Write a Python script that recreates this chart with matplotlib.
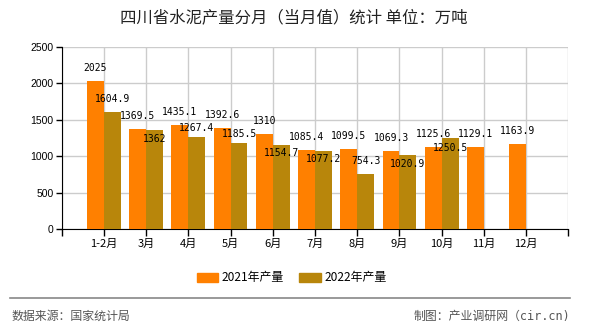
import numpy as np
import matplotlib
matplotlib.use("Agg")
import matplotlib.pyplot as plt
from matplotlib.patches import Rectangle
from matplotlib.lines import Line2D

plt.rcParams['font.family'] = ['Noto Sans CJK SC', 'DejaVu Sans']

months = ["1-2月", "3月", "4月", "5月", "6月", "7月", "8月", "9月", "10月", "11月", "12月"]
prod_2021 = [2025, 1369.5, 1435.1, 1392.6, 1310, 1085.4, 1099.5, 1069.3, 1125.6, 1129.1, 1163.9]
prod_2022 = [1604.9, 1362, 1267.4, 1185.5, 1154.7, 1077.2, 754.3, 1020.9, 1250.5]
# label shifts (px) for the 2022 labels, as the source moved some below the bar top
shift_2022 = [13, -9, 9, 9, -8, -8, 13, -9, -10]

c21 = "#FF8000"
c22 = "#B8860B"

fig = plt.figure(figsize=[5.9, 3.3], dpi=100)
ax = fig.add_axes([61.7/590, 1-229.3/330, (568.3-61.7)/590, (229.3-46.8)/330])

x = np.arange(len(months))
w = 0.4
ax.bar(x - w/2, prod_2021, width=w, color=c21, zorder=3)
x2 = x[:len(prod_2022)]
ax.bar(x2 + w/2, prod_2022, width=w, color=c22, zorder=3)

ax.set_xlim(-1, 11)
ax.set_ylim(0, 2500)
ax.set_yticks(np.arange(0, 2501, 500))
ax.set_xticks(np.arange(-1, 12))
ax.set_xticklabels([""] + months + [""])
ax.grid(True, color="#CCCCCC", linewidth=1, zorder=0)
ax.set_axisbelow(True)
for s in ["top", "right"]:
    ax.spines[s].set_visible(False)
ax.spines["left"].set_color("black")
ax.spines["bottom"].set_color("black")
ax.tick_params(axis="y", length=4, width=1, pad=2, labelsize=7.5)
ax.tick_params(axis="x", length=5, width=1, pad=2, labelsize=8)
for t in ax.get_yticklabels():
    t.set_family(['Liberation Sans', 'DejaVu Sans'])

mono = ['DejaVu Sans Mono', 'Noto Sans CJK SC']
for xi, v in zip(x, prod_2021):
    ax.annotate(f"{v:g}", (xi - w/2, v), xytext=(0, 13), textcoords="offset pixels",
                ha="center", va="center", fontsize=7, family=mono, zorder=5)
for xi, v, d in zip(x2, prod_2022, shift_2022):
    ax.annotate(f"{v:g}", (xi + w/2, v), xytext=(0, d), textcoords="offset pixels",
                ha="center", va="center", fontsize=7, family=mono, zorder=5)

fig.text(294/590, 1-18/330, "四川省水泥产量分月（当月值）统计 单位：万吨",
         ha="center", va="center", fontsize=11.8, color="#222222")

# legend
ly = 1 - 277/330
fig.patches.append(Rectangle((197/590, ly - 4.5/330), 21/590, 9/330, color=c21,
                             transform=fig.transFigure, figure=fig))
fig.text(222/590, ly, "2021年产量", ha="left", va="center", fontsize=8.6)
fig.patches.append(Rectangle((299/590, ly - 4.5/330), 22/590, 9/330, color=c22,
                             transform=fig.transFigure, figure=fig))
fig.text(325/590, ly, "2022年产量", ha="left", va="center", fontsize=8.6)

# footer
fig.lines.append(Line2D([10/590, 570/590], [1-298.3/330]*2, color="#888888",
                        linewidth=1.2, transform=fig.transFigure))
fig.text(12/590, 1-316.7/330, "数据来源：国家统计局", ha="left", va="center",
         fontsize=8.6, color="#555555")
fig.text(570/590, 1-316.7/330, "制图：产业调研网（cir.cn)", ha="right", va="center",
         fontsize=8.6, color="#555555", family=mono)

fig.savefig("out.png", dpi=100)
